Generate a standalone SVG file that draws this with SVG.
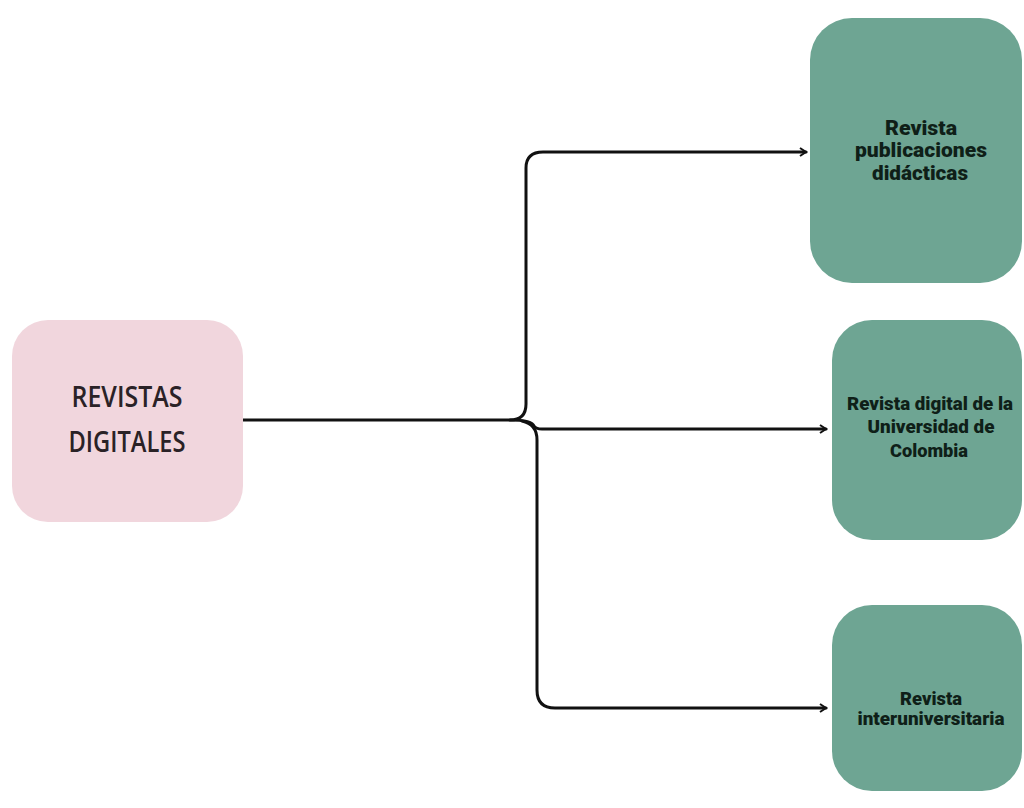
<svg xmlns="http://www.w3.org/2000/svg" width="1024" height="808" viewBox="0 0 1024 808">
<defs>
<style>
.pink{fill:#f1d6dd}
.green{fill:#6ea593}
.t1{font-family:"Open Sans","Liberation Sans",sans-serif;font-weight:600;font-size:28px;fill:#2a2226;text-anchor:middle}
.t2{font-family:"Roboto","Liberation Sans",sans-serif;font-weight:900;font-size:21px;fill:#0f1f18;text-anchor:middle}
.t3{font-family:"Roboto","Liberation Sans",sans-serif;font-weight:900;font-size:19px;fill:#0f1f18;text-anchor:middle}
.t4{font-family:"Roboto","Liberation Sans",sans-serif;font-weight:900;font-size:18px;fill:#0f1f18;text-anchor:middle}
.c{fill:none;stroke:#111;stroke-width:3;stroke-linecap:round;stroke-linejoin:round}
</style>
<marker id="ar" viewBox="0 0 10 10" refX="8" refY="5" markerWidth="10" markerHeight="10" markerUnits="userSpaceOnUse" orient="auto">
<path d="M2,1 L8,5 L2,9" fill="none" stroke="#111" stroke-width="2"/>
</marker>
</defs>
<rect width="1024" height="808" fill="#ffffff"/>
<g id="connectors">
<path class="c" d="M243,420 L510,420 Q526,420 526,404 L526,168 Q526,152 543,152 L806,152" marker-end="url(#ar)"/>
<path class="c" d="M510,420 Q532,420 534,426 Q536,429 542,429 L826,429" marker-end="url(#ar)"/>
<path class="c" d="M522,421 Q537,424 537,440 L537,690 Q537,708 555,708 L826,708" marker-end="url(#ar)"/>
</g>
<g id="node-revistas">
<rect class="pink" x="12" y="320" width="231" height="202" rx="36"/>
<text class="t1" x="127" y="407" textLength="111" lengthAdjust="spacingAndGlyphs">REVISTAS</text>
<text class="t1" x="127" y="452" textLength="117" lengthAdjust="spacingAndGlyphs">DIGITALES</text>
</g>
<g id="node-publicaciones">
<rect class="green" x="810" y="18" width="212" height="265" rx="42"/>
<text class="t2" x="921" y="135" textLength="72" lengthAdjust="spacingAndGlyphs">Revista</text>
<text class="t2" x="921" y="157" textLength="132" lengthAdjust="spacingAndGlyphs">publicaciones</text>
<text class="t2" x="920" y="180" textLength="96" lengthAdjust="spacingAndGlyphs">didácticas</text>
</g>
<g id="node-colombia">
<rect class="green" x="832" y="320" width="190" height="220" rx="40"/>
<text class="t3" x="930" y="410" textLength="166" lengthAdjust="spacingAndGlyphs">Revista digital de la</text>
<text class="t3" x="931" y="433" textLength="127" lengthAdjust="spacingAndGlyphs">Universidad de</text>
<text class="t3" x="929" y="457" textLength="78" lengthAdjust="spacingAndGlyphs">Colombia</text>
</g>
<g id="node-interuniversitaria">
<rect class="green" x="832" y="605" width="190" height="186" rx="40"/>
<text class="t4" x="931" y="705" textLength="62" lengthAdjust="spacingAndGlyphs">Revista</text>
<text class="t4" x="931" y="725" textLength="147" lengthAdjust="spacingAndGlyphs">interuniversitaria</text>
</g>
</svg>
